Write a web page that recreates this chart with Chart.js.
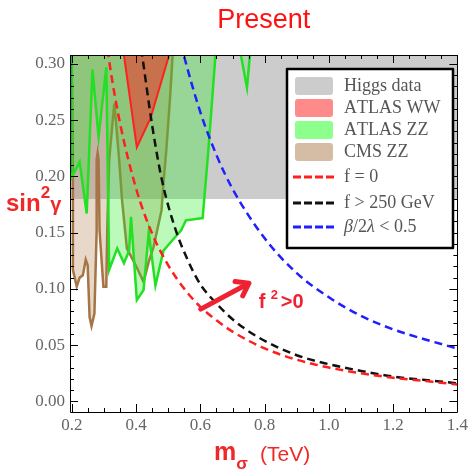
<!DOCTYPE html>
<html>
<head>
<meta charset="utf-8">
<script src="https://cdn.jsdelivr.net/npm/chart.js@4/dist/chart.umd.min.js"></script>
<style>
  html, body { margin: 0; padding: 0; background: #fff; }
</style>
</head>
<body>
<canvas id="chart" width="471" height="469"></canvas>
<script>
// axis ticks
const xTicks = [0.2, 0.4, 0.6, 0.8, 1.0, 1.2, 1.4];
const yTicks = [0, 0.05, 0.1, 0.15, 0.2, 0.25, 0.3];

// Higgs data band (sin^2 gamma above 0.18)
const higgsX = [0.19, 1.41];
const higgsY = [0.18, 0.18];

// ATLAS WW excluded region
const atlasWWX = [0.356, 0.402, 0.445, 0.515];
const atlasWWY = [0.32, 0.226, 0.252, 0.32];

// ATLAS ZZ excluded region
const atlasZZX = [0.199, 0.650, 0.625, 0.607, 0.555, 0.540, 0.500, 0.485, 0.460, 0.439, 0.423, 0.402,
                  0.384, 0.378, 0.362, 0.341, 0.316, 0.307, 0.283, 0.264, 0.246, 0.224, 0.199];
const atlasZZY = [0.32, 0.32, 0.224, 0.163, 0.161, 0.152, 0.139, 0.134, 0.103, 0.150, 0.099, 0.090,
                  0.164, 0.134, 0.123, 0.136, 0.117, 0.297, 0.235, 0.295, 0.167, 0.213, 0.199];
const atlasZZSpikeX = [0.718, 0.745, 0.758];
const atlasZZSpikeY = [0.32, 0.279, 0.32];

// CMS ZZ excluded region
const cmsZZX = [0.199, 0.516, 0.506, 0.494, 0.485, 0.479, 0.454, 0.439, 0.423, 0.402, 0.371, 0.356,
                0.347, 0.341, 0.332, 0.316, 0.310, 0.307, 0.298, 0.286, 0.283, 0.280, 0.277, 0.277,
                0.270, 0.261, 0.255, 0.249, 0.243, 0.234, 0.224, 0.215, 0.203, 0.203];
const cmsZZY = [0.32, 0.32, 0.272, 0.224, 0.194, 0.170, 0.137, 0.124, 0.106, 0.119, 0.136, 0.179,
                0.215, 0.235, 0.265, 0.215, 0.152, 0.102, 0.102, 0.152, 0.215, 0.221, 0.215, 0.152,
                0.078, 0.067, 0.075, 0.121, 0.126, 0.112, 0.110, 0.102, 0.117, 0.213];

// curves
const fZeroX = [0.30, 0.32, 0.35, 0.40, 0.45, 0.50, 0.55, 0.60, 0.65, 0.70, 0.80, 0.90, 1.00, 1.10, 1.20, 1.30, 1.40];
const fZeroY = [0.336, 0.295, 0.247, 0.189, 0.149, 0.121, 0.100, 0.084, 0.072, 0.062, 0.047, 0.037, 0.030, 0.025, 0.021, 0.018, 0.015];

const f250X = [0.41, 0.42, 0.45, 0.48, 0.52, 0.56, 0.60, 0.65, 0.70, 0.78, 0.90, 1.00, 1.10, 1.20, 1.30, 1.40];
const f250Y = [0.325, 0.305, 0.245, 0.197, 0.155, 0.126, 0.104, 0.087, 0.073, 0.057, 0.041, 0.033, 0.027, 0.022, 0.019, 0.016];

const betaX = [0.53, 0.55, 0.60, 0.65, 0.70, 0.80, 0.90, 1.00, 1.10, 1.20, 1.30, 1.40];
const betaY = [0.329, 0.306, 0.257, 0.219, 0.189, 0.145, 0.114, 0.0925, 0.076, 0.064, 0.055, 0.047];
const betaEdgeX = [0.194, 0.194];
const betaEdgeY = [0.32, 0.203];

// arrow "f^2 > 0"
const arrowX = [0.601, 0.751];
const arrowY = [0.082, 0.105];
const arrowTextX = 0.782;
const arrowTextY = 0.083;

function pts(xs, ys) {
    return xs.map((x, i) => ({ x: x, y: ys[i] }));
}
function closed(xs, ys) {
    const p = pts(xs, ys);
    p.push(p[0]);
    return p;
}

const greek = /[\u0370-\u03ff]/;

const decorations = {
    id: "decorations",
    afterDatasetsDraw(chart) {
        const ctx = chart.ctx;
        const a = chart.chartArea;
        const sx = chart.scales.x, sy = chart.scales.y;
        ctx.save();

        // arrow
        const x0 = sx.getPixelForValue(arrowX[0]), y0 = sy.getPixelForValue(arrowY[0]);
        const x1 = sx.getPixelForValue(arrowX[1]), y1 = sy.getPixelForValue(arrowY[1]);
        const ang = Math.atan2(y1 - y0, x1 - x0);
        ctx.strokeStyle = "#ee2233";
        ctx.lineWidth = 5;
        ctx.lineCap = "round";
        ctx.lineJoin = "round";
        ctx.beginPath();
        ctx.moveTo(x0, y0);
        ctx.lineTo(x1, y1);
        ctx.moveTo(x1 - 14 * Math.cos(ang - 0.62), y1 - 14 * Math.sin(ang - 0.62));
        ctx.lineTo(x1, y1);
        ctx.lineTo(x1 - 14 * Math.cos(ang + 0.62), y1 - 14 * Math.sin(ang + 0.62));
        ctx.stroke();

        const tx = sx.getPixelForValue(arrowTextX), ty = sy.getPixelForValue(arrowTextY);
        ctx.fillStyle = "#ee2233";
        ctx.textBaseline = "alphabetic";
        ctx.textAlign = "left";
        ctx.font = "bold 20px 'Liberation Sans'";
        ctx.fillText("f", tx, ty);
        ctx.fillText(">0", tx + 22, ty);
        ctx.font = "bold 13px 'Liberation Sans'";
        ctx.fillText("2", tx + 12, ty - 9);

        // frame and inward ticks
        ctx.strokeStyle = "#000";
        ctx.lineWidth = 1;
        ctx.lineCap = "butt";
        ctx.beginPath();
        for (let i = 0; i <= 24; i++) {
            const v = 0.2 + i * 0.05;
            const px = Math.round(sx.getPixelForValue(v)) + 0.5;
            const len = i % 4 === 0 ? 8 : 4;
            ctx.moveTo(px, a.bottom); ctx.lineTo(px, a.bottom - len);
            ctx.moveTo(px, a.top); ctx.lineTo(px, a.top + len);
        }
        for (let i = 0; i <= 30; i++) {
            const v = i * 0.01;
            const py = Math.round(sy.getPixelForValue(v)) + 0.5;
            const len = i % 5 === 0 ? 8 : 4;
            ctx.moveTo(a.left, py); ctx.lineTo(a.left + len, py);
            ctx.moveTo(a.right, py); ctx.lineTo(a.right - len, py);
        }
        ctx.stroke();
        ctx.strokeRect(Math.round(a.left) + 0.5, Math.round(a.top) + 0.5,
                       Math.round(a.right - a.left), Math.round(a.bottom - a.top));

        // legend box
        const box = { left: 287, top: 69, right: 453, bottom: 248 };
        const rowY = [86, 108, 130, 152, 177, 203, 227];
        ctx.fillStyle = "#fff";
        ctx.fillRect(box.left, box.top, box.right - box.left, box.bottom - box.top);
        ctx.lineWidth = 2.5;
        ctx.strokeRect(box.left, box.top, box.right - box.left, box.bottom - box.top);
        chart.data.datasets.forEach(ds => {
            if (ds.legendRow === undefined) return;
            const cy = rowY[ds.legendRow];
            if (ds.legendKind === "line") {
                ctx.strokeStyle = ds.borderColor;
                ctx.lineWidth = 3;
                ctx.setLineDash([8, 3]);
                ctx.beginPath();
                ctx.moveTo(293, cy);
                ctx.lineTo(336, cy);
                ctx.stroke();
                ctx.setLineDash([]);
            } else {
                ctx.fillStyle = ds.legendColor;
                ctx.beginPath();
                ctx.roundRect(295, cy - 9, 38, 18, 3);
                ctx.fill();
            }
            ctx.fillStyle = "#555";
            ctx.textBaseline = "middle";
            let x = 344;
            for (const ch of ds.label) {
                ctx.font = (greek.test(ch) ? "italic " : "") + "18px 'Liberation Serif'";
                ctx.fillText(ch, x, cy);
                x += ctx.measureText(ch).width;
            }
        });
        ctx.restore();
    },
    afterDraw(chart) {
        const ctx = chart.ctx;
        const a = chart.chartArea;
        ctx.save();
        ctx.fillStyle = "#ff1111";
        ctx.textBaseline = "alphabetic";
        ctx.textAlign = "center";
        ctx.font = "27px 'Liberation Sans'";
        ctx.fillText("Present", (a.left + a.right) / 2, 28);

        ctx.textAlign = "left";
        ctx.fillStyle = "#f02828";
        // y title: sin^2 gamma
        ctx.font = "bold 24px 'Liberation Sans'";
        ctx.fillText("sin", 6, 211);
        let w = ctx.measureText("sin").width;
        ctx.font = "bold 17px 'Liberation Sans'";
        ctx.fillText("2", 6 + w, 198);
        const w2 = ctx.measureText("2").width;
        ctx.font = "bold 20px 'Liberation Sans'";
        ctx.fillText("\u03b3", 6 + w + w2, 211);

        // x title: m_sigma (TeV)
        ctx.font = "bold 25px 'Liberation Sans'";
        ctx.fillText("m", 214, 460);
        w = ctx.measureText("m").width;
        ctx.font = "bold 17px 'Liberation Sans'";
        ctx.fillText("\u03c3", 214 + w, 469);
        ctx.font = "21px 'Liberation Sans'";
        ctx.fillText("(TeV)", 260, 461);
        ctx.restore();
    }
};

const common = { showLine: true, pointRadius: 0, pointHoverRadius: 0 };

const datasets = [
    Object.assign({ label: "f = 0", data: pts(fZeroX, fZeroY), borderColor: "#ff1f1f", borderWidth: 2.5,
        borderDash: [8, 5], cubicInterpolationMode: "monotone", fill: false, order: 1, legendRow: 4, legendKind: "line" }, common),
    Object.assign({ label: "f > 250 GeV", data: pts(f250X, f250Y), borderColor: "#111111", borderWidth: 2.5,
        borderDash: [8, 5], cubicInterpolationMode: "monotone", fill: false, order: 2, legendRow: 5, legendKind: "line" }, common),
    Object.assign({ label: "\u03b2/2\u03bb < 0.5", data: pts(betaX, betaY), borderColor: "#1f1fff", borderWidth: 2.5,
        borderDash: [8, 5], cubicInterpolationMode: "monotone", fill: false, order: 3, legendRow: 6, legendKind: "line" }, common),
    Object.assign({ label: "", data: pts(betaEdgeX, betaEdgeY), borderColor: "#1f1fff", borderWidth: 2.5,
        fill: false, order: 4 }, common),
    Object.assign({ label: "ATLAS WW", data: closed(atlasWWX, atlasWWY), borderColor: "#ff2020", borderWidth: 2,
        backgroundColor: "rgba(255,30,30,0.5)", fill: "shape", order: 5, legendRow: 1, legendColor: "#ff8a8a" }, common),
    Object.assign({ label: "", data: closed(atlasZZSpikeX, atlasZZSpikeY), borderColor: "#22e022", borderWidth: 2.5,
        backgroundColor: "rgba(30,240,30,0.15)", fill: "shape", order: 6 }, common),
    Object.assign({ label: "ATLAS ZZ", data: closed(atlasZZX, atlasZZY), borderColor: "#22e022", borderWidth: 2.5,
        backgroundColor: "rgba(30,240,30,0.3)", fill: "shape", order: 6, legendRow: 2, legendColor: "#8cff8c" }, common),
    Object.assign({ label: "CMS ZZ", data: closed(cmsZZX, cmsZZY), borderColor: "#a57545", borderWidth: 2.5,
        backgroundColor: "rgba(170,115,65,0.28)", fill: "shape", order: 7, legendRow: 3, legendColor: "#d5bda5" }, common),
    Object.assign({ label: "Higgs data", data: pts(higgsX, higgsY), borderWidth: 0, borderColor: "rgba(0,0,0,0)",
        backgroundColor: "#cccccc", fill: "end", order: 8, legendRow: 0, legendColor: "#cccccc" }, common)
];

new Chart(document.getElementById("chart"), {
    type: "line",
    data: { datasets: datasets },
    options: {
        responsive: false,
        animation: false,
        events: [],
        layout: { padding: { top: 55, right: 7, left: 0, bottom: 0 } },
        plugins: { legend: { display: false }, tooltip: { enabled: false }, title: { display: false } },
        scales: {
            x: {
                type: "linear",
                min: 0.194,
                max: 1.4,
                afterBuildTicks: s => { s.ticks = xTicks.map(v => ({ value: v })); },
                afterFit: s => { s.height = 57; },
                grid: { display: false, drawTicks: false },
                border: { display: false },
                ticks: {
                    autoSkip: false,
                    maxRotation: 0,
                    padding: 3,
                    color: "#666",
                    font: { family: "'Liberation Serif'", size: 17 },
                    callback: v => v.toFixed(1)
                }
            },
            y: {
                type: "linear",
                min: -0.0095,
                max: 0.308,
                afterBuildTicks: s => { s.ticks = yTicks.map(v => ({ value: v })); },
                afterFit: s => { s.width = 70; },
                grid: { display: false, drawTicks: false },
                border: { display: false },
                ticks: {
                    autoSkip: false,
                    padding: 5,
                    color: "#666",
                    font: { family: "'Liberation Serif'", size: 17 },
                    callback: v => v.toFixed(2)
                }
            }
        }
    },
    plugins: [decorations]
});
</script>
</body>
</html>
